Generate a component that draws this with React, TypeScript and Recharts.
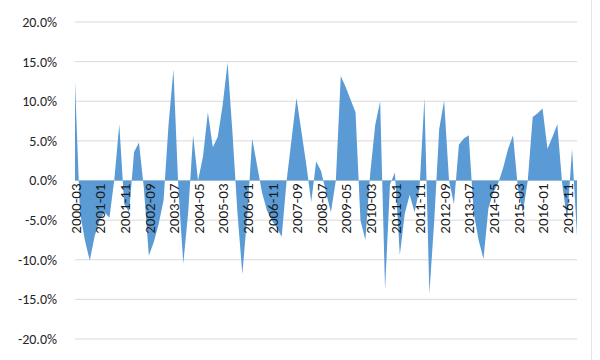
import React from 'react';
import { AreaChart, Area, XAxis, YAxis, CartesianGrid } from 'recharts';

// bimonthly periods, 2000-03 .. 2017-03
const periods = [
  '2000-03', '2000-05', '2000-07', '2000-09', '2000-11',
  '2001-01', '2001-03', '2001-05', '2001-07', '2001-09', '2001-11',
  '2002-01', '2002-03', '2002-05', '2002-07', '2002-09', '2002-11',
  '2003-01', '2003-03', '2003-05', '2003-07', '2003-09', '2003-11',
  '2004-01', '2004-03', '2004-05', '2004-07', '2004-09', '2004-11',
  '2005-01', '2005-03', '2005-05', '2005-07', '2005-09', '2005-11',
  '2006-01', '2006-03', '2006-05', '2006-07', '2006-09', '2006-11',
  '2007-01', '2007-03', '2007-05', '2007-07', '2007-09', '2007-11',
  '2008-01', '2008-03', '2008-05', '2008-07', '2008-09', '2008-11',
  '2009-01', '2009-03', '2009-05', '2009-07', '2009-09', '2009-11',
  '2010-01', '2010-03', '2010-05', '2010-07', '2010-09', '2010-11',
  '2011-01', '2011-03', '2011-05', '2011-07', '2011-09', '2011-11',
  '2012-01', '2012-03', '2012-05', '2012-07', '2012-09', '2012-11',
  '2013-01', '2013-03', '2013-05', '2013-07', '2013-09', '2013-11',
  '2014-01', '2014-03', '2014-05', '2014-07', '2014-09', '2014-11',
  '2015-01', '2015-03', '2015-05', '2015-07', '2015-09', '2015-11',
  '2016-01', '2016-03', '2016-05', '2016-07', '2016-09', '2016-11',
  '2017-01', '2017-03',
];

// growth rate, %
const growth = [
  12.5, -4, -7.5, -10.1, -7,
  -5, -4, -4.7, 0.2, 7.1, -3,
  -4, 3.6, 4.8, -1, -9.5, -7.8,
  -5.5, -2.5, 7, 14, -1, -10.5,
  -4, 5.7, 0, 3, 8.6, 4.2,
  5.5, 9.5, 14.9, 6, -4, -11.8,
  -4.5, 5.3, 1.9, -1.5, -3.8, -5,
  -6, -7.1, 0, 5.2, 10.4, 6.2,
  2, -2.7, 2.4, 1.2, -1.5, -4,
  0, 13.2, 11.8, 10.2, 8.6, -5,
  -7.5, 1, 7, 10, -13.8, -0.5,
  1, -9.4, -4.2, -1.8, -4, -1,
  10.4, -14.3, -5, 6.5, 10.1, 0,
  -3, 4.5, 5.3, 5.7, -4, -7.5,
  -9.9, -3.5, -1.5, -0.3, 1.6, 4,
  5.7, -1, -4, 0, 8, 8.5,
  9.1, 4, 5.5, 7.1, -0.5, -5,
  4, -7,
];

const yTicks = [-20, -15, -10, -5, 0, 5, 10, 15, 20];

const data = periods.map((p, i) => ({ period: p, value: growth[i] }));

const W = 600;
const H = 360;
const TOP = 22;
const BOTTOM = 20;
const ZERO_Y = TOP + (H - TOP - BOTTOM - 1) / 2;
const FONT = "Carlito, 'Liberation Sans Narrow', Roboto, sans-serif";

function PeriodTick(props: any) {
  const { x, payload } = props;
  const y = ZERO_Y + 3;
  return (
    <text
      x={x}
      y={y}
      transform={`rotate(-90, ${x}, ${y})`}
      textAnchor="end"
      dy="0.38em"
      fontSize={15}
      fontFamily={FONT}
      fill="#1a1a1a"
    >
      {payload.value}
    </text>
  );
}

export default function App() {
  return (
    <div style={{ position: 'absolute', left: 0, top: 0, width: W, height: H, background: '#fff' }}>
      <AreaChart width={W} height={H} data={data} margin={{ top: TOP, right: 23, bottom: BOTTOM, left: 0 }}>
        <CartesianGrid vertical={false} stroke="#d9d9d9" />
        <YAxis
          width={75}
          domain={[-20, 20]}
          ticks={yTicks}
          axisLine={false}
          tickLine={false}
          tickSize={0}
          tickMargin={18}
          tickFormatter={(v: number) => `${v.toFixed(1)}%`}
          tick={{ fontSize: 14, fontFamily: FONT, fill: '#262626' }}
        />
        <Area
          type="linear"
          dataKey="value"
          baseValue={0}
          stroke="none"
          fill="#5B9BD5"
          fillOpacity={1}
          isAnimationActive={false}
        />
        <XAxis
          dataKey="period"
          interval={4}
          height={1}
          axisLine={false}
          tickLine={false}
          tick={(p: any) => <PeriodTick {...p} />}
        />
      </AreaChart>
      <div style={{ position: 'absolute', left: 591, top: 0, width: 1, height: H, background: '#e6e6e6' }} />
    </div>
  );
}
